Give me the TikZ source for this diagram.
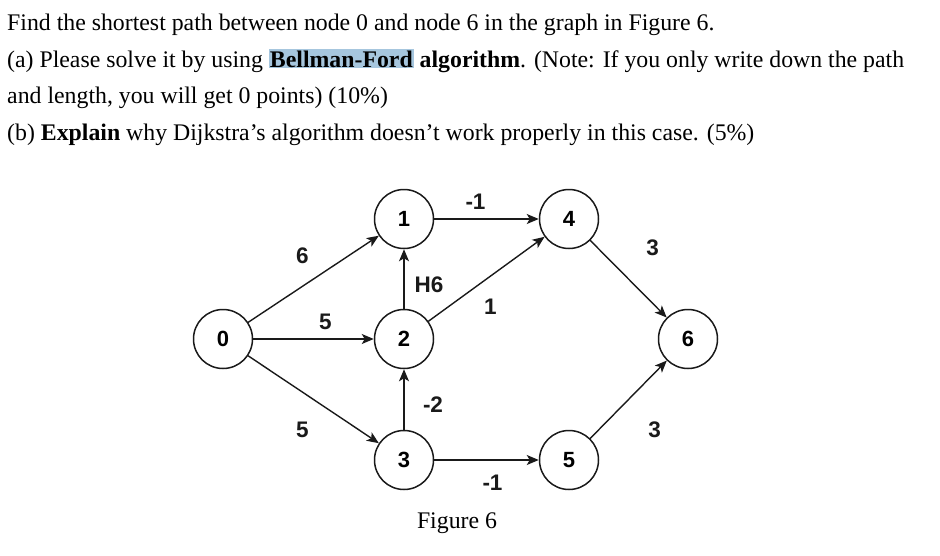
\documentclass[tikz,border=0pt]{standalone}
\usepackage{fontspec}
\setmainfont{Liberation Serif}
\newfontfamily\graphfont{Liberation Sans}
\usepackage{xcolor}
\definecolor{hlblue}{HTML}{A6C6DE}
\definecolor{inkgray}{HTML}{1A1A1A}
\usepackage{tikz}
\usetikzlibrary{arrows.meta,positioning}
\tikzset{
  >={Stealth[length=12pt,width=10pt,inset=3pt]},
  every picture/.style={line cap=round, line join=round},
  qline/.style={font=\fontsize{23.8}{28}\selectfont, anchor=base west, inner sep=0pt, text=black},
  vertex/.style={circle, draw=inkgray, line width=1.5pt, minimum size=59pt, inner sep=0pt,
    font=\graphfont\bfseries\fontsize{22}{25}\selectfont},
  edge/.style={->, draw=inkgray, line width=1.4pt},
  elabel/.style={font=\graphfont\bfseries\fontsize{22.5}{25}\selectfont, inner sep=0pt, text=inkgray},
  caption/.style={font=\fontsize{23.8}{28}\selectfont, inner sep=0pt},
}
\newcommand{\hlword}[1]{{\setlength{\fboxsep}{1pt}\colorbox{hlblue}{#1}}}

\begin{document}
\begin{tikzpicture}[x=1pt, y=-1pt]
\useasboundingbox[fill=white] (0,0) rectangle (940,555);
% the question
\node[qline] (q1) at (7,30) {Find the shortest path between node 0 and node 6 in the graph in Figure 6.};
\node[qline] (q2) at (7,67) {(a) Please solve it by using \hlword{\textbf{Bellman-Ford}} \textbf{algorithm}. (Note: If you only write down the path};
\node[qline] (q3) at (7,103) {and length, you will get 0 points) (10\%)};
\node[qline] (q4) at (7,140) {(b) \textbf{Explain} why Dijkstra’s algorithm doesn’t work properly in this case. (5\%)};
% the graph
\node[vertex] (n0) at (223,339) {0};
\node[vertex] (n1) at (404,219) {1};
\node[vertex] (n2) at (404,339) {2};
\node[vertex] (n3) at (404,460) {3};
\node[vertex] (n4) at (569,219) {4};
\node[vertex] (n5) at (569,460) {5};
\node[vertex] (n6) at (688,339) {6};
\draw[edge] (n0) -- (n1) node[elabel, midway, xshift=-11pt, yshift=23pt] {6};
\draw[edge] (n0) -- (n2) node[elabel, midway, xshift=12pt, yshift=17pt] {5};
\draw[edge] (n0) -- (n3) node[elabel, midway, xshift=-11pt, yshift=-30pt] {5};
\draw[edge] (n2) -- (n1) node[elabel, midway, xshift=25pt, yshift=-6pt] {H6};
\draw[edge] (n3) -- (n2) node[elabel, midway, xshift=29pt, yshift=-5pt] {-2};
\draw[edge] (n1) -- (n4) node[elabel, midway, xshift=-11pt, yshift=17pt] {-1};
\draw[edge] (n2) -- (n4) node[elabel, midway, xshift=4pt, yshift=-28pt] {1};
\draw[edge] (n3) -- (n5) node[elabel, midway, xshift=6pt, yshift=-23pt] {-1};
\draw[edge] (n4) -- (n6) node[elabel, midway, xshift=24pt, yshift=31pt] {3};
\draw[edge] (n5) -- (n6) node[elabel, midway, xshift=26pt, yshift=-30pt] {3};
\node[caption] (fig) at (457,523) {Figure 6};
\end{tikzpicture}
\end{document}
